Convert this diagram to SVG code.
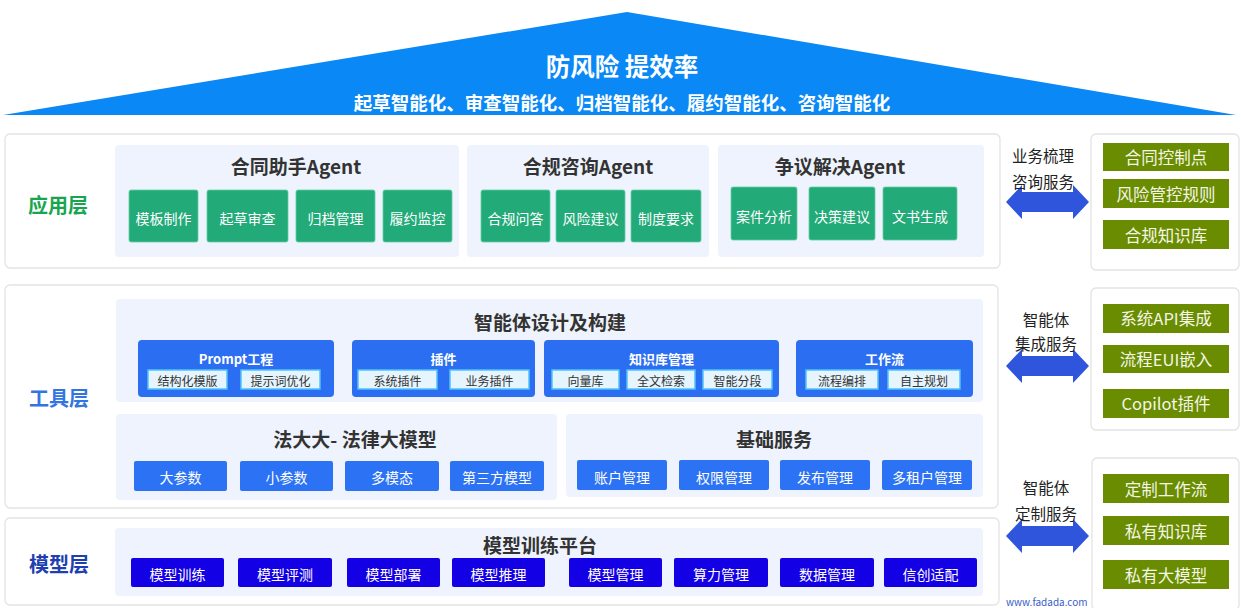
<svg xmlns="http://www.w3.org/2000/svg" width="1241" height="608" viewBox="0 0 1241 608">
<style>
text{font-family:"Noto Sans CJK SC","Noto Sans",sans-serif;text-anchor:middle;dominant-baseline:central}
.outer{fill:#fff;stroke:#e3e3e3;stroke-width:1.3}
.sub{fill:#eef3fd}
.h{font-size:19px;font-weight:bold;fill:#333}
.gbtn{fill:#22aa78;stroke:#5fcfa3;stroke-width:0.8}
.wt{fill:#fff;font-size:14px}
.blue{fill:#2b6ef2}
.bt{fill:#fff;font-size:13px;font-weight:bold}
.chip{fill:#e6f4fd;stroke:#4fc3f7;stroke-width:1.5}
.ct{fill:#333;font-size:12px}
.lbtn{fill:#2b72f5}
.mbtn{fill:#1400e4}
.olive{fill:#6a8c00}
.ot{fill:#f4f6e6;font-size:16.5px}
.rl{fill:#222;font-size:15.5px}
.arrow{fill:#2f55dd}
</style>

<g id="roof">
<polygon points="627,12 1236,115 3,115" fill="#0a88f5"/>
<text x="622" y="65" fill="#fff" font-size="24.5" font-weight="bold">防风险 提效率</text>
<text x="622" y="102" fill="#fff" font-size="18.5" font-weight="bold">起草智能化、审查智能化、归档智能化、履约智能化、咨询智能化</text>
</g>

<g id="app-layer">
<rect class="outer" x="5" y="134" width="995" height="134" rx="5"/>
<text x="58" y="204" font-size="20" font-weight="bold" fill="#17a64f">应用层</text>
</g>
<g id="agent-contract">
<rect class="sub" x="115" y="145" width="344" height="112" rx="4"/>
<text class="h" x="296" y="165">合同助手Agent</text>
<rect class="gbtn" x="129" y="190" width="69" height="52" rx="2"/><text class="wt" x="163.5" y="218">模板制作</text>
<rect class="gbtn" x="207" y="190" width="81" height="52" rx="2"/><text class="wt" x="247.5" y="218">起草审查</text>
<rect class="gbtn" x="296" y="190" width="79" height="52" rx="2"/><text class="wt" x="335.5" y="218">归档管理</text>
<rect class="gbtn" x="383" y="190" width="69" height="52" rx="2"/><text class="wt" x="417.5" y="218">履约监控</text>
</g>
<g id="agent-compliance">
<rect class="sub" x="467" y="145" width="242" height="112" rx="4"/>
<text class="h" x="588" y="165">合规咨询Agent</text>
<rect class="gbtn" x="481" y="190" width="69" height="52" rx="2"/><text class="wt" x="515.5" y="218">合规问答</text>
<rect class="gbtn" x="556" y="190" width="69" height="52" rx="2"/><text class="wt" x="590.5" y="218">风险建议</text>
<rect class="gbtn" x="631" y="190" width="70" height="52" rx="2"/><text class="wt" x="666" y="218">制度要求</text>
</g>
<g id="agent-dispute">
<rect class="sub" x="718" y="145" width="266" height="112" rx="4"/>
<text class="h" x="840" y="165">争议解决Agent</text>
<rect class="gbtn" x="731" y="187" width="66" height="53" rx="2"/><text class="wt" x="764" y="216">案件分析</text>
<rect class="gbtn" x="809" y="187" width="66" height="53" rx="2"/><text class="wt" x="842" y="216">决策建议</text>
<rect class="gbtn" x="883" y="187" width="74" height="53" rx="2"/><text class="wt" x="920" y="216">文书生成</text>
</g>

<g id="tool-layer">
<rect class="outer" x="5" y="285" width="993" height="223" rx="5"/>
<text x="59" y="397" font-size="20" font-weight="bold" fill="#3375e0">工具层</text>
</g>
<g id="agent-design">
<rect class="sub" x="116" y="299" width="867" height="103" rx="4"/>
<text class="h" x="550" y="321">智能体设计及构建</text>
</g>
<g id="prompt">
<rect class="blue" x="138" y="340" width="196" height="57" rx="4"/>
<text class="bt" x="236" y="358">Prompt工程</text>
<rect class="chip" x="148" y="370" width="79" height="19"/><text class="ct" x="187.5" y="380">结构化模版</text>
<rect class="chip" x="241" y="370" width="79" height="19"/><text class="ct" x="280.5" y="380">提示词优化</text>
</g>
<g id="plugin">
<rect class="blue" x="352" y="340" width="183" height="57" rx="4"/>
<text class="bt" x="443.5" y="358">插件</text>
<rect class="chip" x="358" y="370" width="79" height="19"/><text class="ct" x="397.5" y="380">系统插件</text>
<rect class="chip" x="450" y="370" width="79" height="19"/><text class="ct" x="489.5" y="380">业务插件</text>
</g>
<g id="kb">
<rect class="blue" x="544" y="340" width="235" height="57" rx="4"/>
<text class="bt" x="661.5" y="358">知识库管理</text>
<rect class="chip" x="552" y="370" width="67" height="19"/><text class="ct" x="585.5" y="380">向量库</text>
<rect class="chip" x="627" y="370" width="68" height="19"/><text class="ct" x="661" y="380">全文检索</text>
<rect class="chip" x="703" y="370" width="69" height="19"/><text class="ct" x="737.5" y="380">智能分段</text>
</g>
<g id="workflow">
<rect class="blue" x="796" y="340" width="177" height="57" rx="4"/>
<text class="bt" x="884.5" y="358">工作流</text>
<rect class="chip" x="806" y="370" width="72" height="19"/><text class="ct" x="842" y="380">流程编排</text>
<rect class="chip" x="888" y="370" width="72" height="19"/><text class="ct" x="924" y="380">自主规划</text>
</g>
<g id="law-model">
<rect class="sub" x="116" y="414" width="441" height="86" rx="4"/>
<text class="h" x="355" y="438">法大大- 法律大模型</text>
<rect class="lbtn" x="134" y="461" width="93" height="30" rx="2"/><text class="wt" x="180.5" y="477">大参数</text>
<rect class="lbtn" x="240" y="461" width="93" height="30" rx="2"/><text class="wt" x="286.5" y="477">小参数</text>
<rect class="lbtn" x="345" y="461" width="94" height="30" rx="2"/><text class="wt" x="392" y="477">多模态</text>
<rect class="lbtn" x="450" y="461" width="94" height="30" rx="2"/><text class="wt" x="497" y="477">第三方模型</text>
</g>
<g id="base-service">
<rect class="sub" x="566" y="414" width="417" height="83" rx="4"/>
<text class="h" x="774" y="438">基础服务</text>
<rect class="lbtn" x="577" y="460" width="90" height="30" rx="2"/><text class="wt" x="622" y="477">账户管理</text>
<rect class="lbtn" x="679" y="460" width="90" height="30" rx="2"/><text class="wt" x="724" y="477">权限管理</text>
<rect class="lbtn" x="780" y="460" width="90" height="30" rx="2"/><text class="wt" x="825" y="477">发布管理</text>
<rect class="lbtn" x="882" y="460" width="90" height="30" rx="2"/><text class="wt" x="927" y="477">多租户管理</text>
</g>

<g id="model-layer">
<rect class="outer" x="5" y="518" width="994" height="87" rx="5"/>
<text x="59" y="563" font-size="20" font-weight="bold" fill="#1f3fb0">模型层</text>
</g>
<g id="training-platform">
<rect class="sub" x="115" y="528" width="868" height="68" rx="4"/>
<text class="h" x="540" y="544">模型训练平台</text>
<rect class="mbtn" x="131" y="558" width="93" height="29" rx="2"/><text class="wt" x="177.5" y="574">模型训练</text>
<rect class="mbtn" x="238" y="558" width="94" height="29" rx="2"/><text class="wt" x="285" y="574">模型评测</text>
<rect class="mbtn" x="347" y="558" width="93" height="29" rx="2"/><text class="wt" x="393.5" y="574">模型部署</text>
<rect class="mbtn" x="452" y="558" width="93" height="29" rx="2"/><text class="wt" x="498.5" y="574">模型推理</text>
<rect class="mbtn" x="569" y="558" width="93" height="29" rx="2"/><text class="wt" x="615.5" y="574">模型管理</text>
<rect class="mbtn" x="674" y="558" width="94" height="29" rx="2"/><text class="wt" x="721" y="574">算力管理</text>
<rect class="mbtn" x="780" y="558" width="94" height="29" rx="2"/><text class="wt" x="827" y="574">数据管理</text>
<rect class="mbtn" x="884" y="558" width="93" height="29" rx="2"/><text class="wt" x="930.5" y="574">信创适配</text>
</g>

<g id="svc-consult">
<rect class="outer" x="1091" y="134" width="148" height="136" rx="5"/>
<rect class="olive" x="1103" y="143" width="126" height="28"/><text class="ot" x="1166" y="157">合同控制点</text>
<rect class="olive" x="1103" y="179" width="126" height="29"/><text class="ot" x="1166" y="194">风险管控规则</text>
<rect class="olive" x="1103" y="220" width="126" height="29"/><text class="ot" x="1166" y="235">合规知识库</text>
</g>
<g id="svc-integration">
<rect class="outer" x="1091" y="288" width="148" height="142" rx="5"/>
<rect class="olive" x="1103" y="304" width="126" height="29"/><text class="ot" x="1166" y="318">系统API集成</text>
<rect class="olive" x="1103" y="345" width="126" height="28"/><text class="ot" x="1166" y="359">流程EUI嵌入</text>
<rect class="olive" x="1103" y="389" width="126" height="29"/><text class="ot" x="1166" y="403">Copilot插件</text>
</g>
<g id="svc-custom">
<rect class="outer" x="1092" y="458" width="147" height="152" rx="5"/>
<rect class="olive" x="1103" y="474" width="126" height="29"/><text class="ot" x="1166" y="489">定制工作流</text>
<rect class="olive" x="1103" y="516" width="126" height="29"/><text class="ot" x="1166" y="531">私有知识库</text>
<rect class="olive" x="1103" y="560" width="126" height="29"/><text class="ot" x="1166" y="575">私有大模型</text>
</g>

<g id="connectors">
<path class="arrow" d="M1006,202 L1022,185 L1022,192 L1073,192 L1073,185 L1089,202 L1073,219 L1073,212 L1022,212 L1022,219 Z"/>
<path class="arrow" d="M1006,366 L1022,349 L1022,356 L1073,356 L1073,349 L1089,366 L1073,383 L1073,376 L1022,376 L1022,383 Z"/>
<path class="arrow" d="M1006,536 L1022,519 L1022,526 L1073,526 L1073,519 L1089,536 L1073,553 L1073,546 L1022,546 L1022,553 Z"/>
<text class="rl" x="1043" y="155">业务梳理</text>
<text class="rl" x="1043" y="181">咨询服务</text>
<text class="rl" x="1046" y="319">智能体</text>
<text class="rl" x="1046" y="343">集成服务</text>
<text class="rl" x="1046" y="487">智能体</text>
<text class="rl" x="1046" y="513">定制服务</text>
</g>
<text x="1006" y="606" font-size="10" fill="#3a60c8" style="text-anchor:start;dominant-baseline:auto">www.fadada.com</text>
</svg>
